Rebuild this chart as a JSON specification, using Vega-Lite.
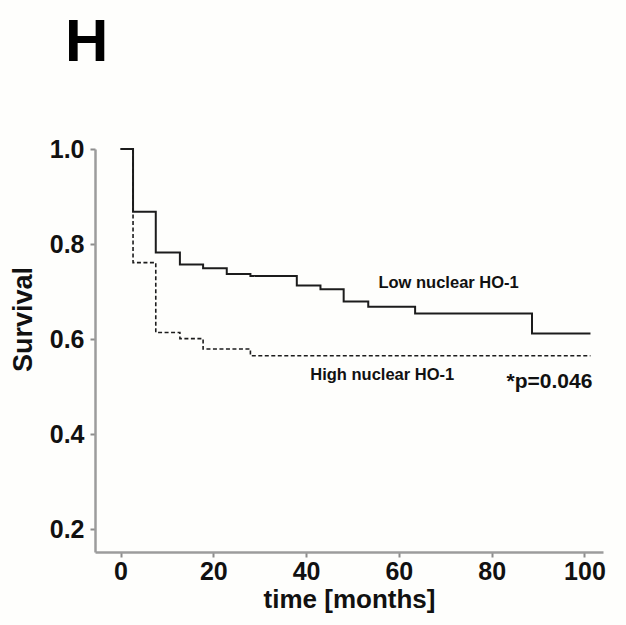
{
  "$schema": "https://vega.github.io/schema/vega-lite/v6.json",
  "width": 508,
  "height": 403,
  "autosize": {"type": "none"},
  "padding": {"left": 95, "top": 149, "right": 23, "bottom": 73},
  "background": "#fefefc",
  "title": {"text": "H", "anchor": "start", "frame": "group", "fontSize": 60, "font": "Liberation Sans", "fontWeight": "bold", "color": "#000000", "baseline": "alphabetic", "offset": 16, "dx": -30},
  "config": {
    "view": {"stroke": null},
    "axis": {
      "domainColor": "#9c9c9c",
      "domainWidth": 2.5,
      "tickColor": "#8c8c8c",
      "tickWidth": 2,
      "tickSize": 5,
      "grid": false,
      "labelFont": "Liberation Sans",
      "labelFontWeight": "bold",
      "labelFontSize": 25,
      "labelColor": "#111111",
      "titleFont": "Liberation Sans",
      "titleFontWeight": "bold",
      "titleColor": "#111111"
    }
  },
  "datasets": {
    "curves": [
      {"group": "Low nuclear HO-1", "t": 0, "s": 1.0},
      {"group": "Low nuclear HO-1", "t": 2.7, "s": 0.868},
      {"group": "Low nuclear HO-1", "t": 7.6, "s": 0.782},
      {"group": "Low nuclear HO-1", "t": 12.8, "s": 0.757},
      {"group": "Low nuclear HO-1", "t": 17.8, "s": 0.749},
      {"group": "Low nuclear HO-1", "t": 22.9, "s": 0.737},
      {"group": "Low nuclear HO-1", "t": 28.0, "s": 0.733},
      {"group": "Low nuclear HO-1", "t": 38.0, "s": 0.713},
      {"group": "Low nuclear HO-1", "t": 43.1, "s": 0.705},
      {"group": "Low nuclear HO-1", "t": 48.1, "s": 0.679},
      {"group": "Low nuclear HO-1", "t": 53.4, "s": 0.668},
      {"group": "Low nuclear HO-1", "t": 63.5, "s": 0.654},
      {"group": "Low nuclear HO-1", "t": 88.7, "s": 0.612},
      {"group": "Low nuclear HO-1", "t": 101.3, "s": 0.612},
      {"group": "High nuclear HO-1", "t": 0, "s": 1.0},
      {"group": "High nuclear HO-1", "t": 2.7, "s": 0.761},
      {"group": "High nuclear HO-1", "t": 7.6, "s": 0.614},
      {"group": "High nuclear HO-1", "t": 12.8, "s": 0.601},
      {"group": "High nuclear HO-1", "t": 17.8, "s": 0.579},
      {"group": "High nuclear HO-1", "t": 28.0, "s": 0.565},
      {"group": "High nuclear HO-1", "t": 101.3, "s": 0.565}
    ],
    "labels": [
      {"kind": "group", "text": "Low nuclear HO-1", "t": 55.6, "s": 0.718},
      {"kind": "group", "text": "High nuclear HO-1", "t": 40.9, "s": 0.524},
      {"kind": "p", "text": "*p=0.046", "t": 83.2, "s": 0.51}
    ]
  },
  "layer": [
    {
      "data": {"name": "curves"},
      "mark": {"type": "line", "interpolate": "step-after", "color": "#1c1c1c"},
      "encoding": {
        "x": {"field": "t", "type": "quantitative", "scale": {"domain": [-5.5, 104], "nice": false, "zero": false},
              "axis": {"values": [0, 20, 40, 60, 80, 100], "title": "time [months]", "titleFontSize": 26, "labelPadding": 2, "titlePadding": 2}},
        "y": {"field": "s", "type": "quantitative", "scale": {"domain": [0.152, 1.0], "nice": false, "zero": false},
              "axis": {"values": [0.2, 0.4, 0.6, 0.8, 1.0], "format": ".1f", "title": "Survival", "titleFontSize": 27, "labelPadding": 6, "titleX": -72, "titleY": 170, "titleAlign": "center", "titleBaseline": "middle", "titleAngle": -90}},
        "strokeDash": {"field": "group", "type": "nominal", "scale": {"domain": ["Low nuclear HO-1", "High nuclear HO-1"], "range": [[1, 0], [4, 2.5]]}, "legend": null},
        "strokeWidth": {"field": "group", "type": "nominal", "scale": {"domain": ["Low nuclear HO-1", "High nuclear HO-1"], "range": [2, 1.6]}, "legend": null}
      }
    },
    {
      "data": {"name": "labels"},
      "transform": [{"filter": "datum.kind === 'group'"}],
      "mark": {"type": "text", "align": "left", "baseline": "middle", "font": "Liberation Sans", "fontWeight": "bold", "fontSize": 16.5, "color": "#111111"},
      "encoding": {
        "x": {"field": "t", "type": "quantitative"},
        "y": {"field": "s", "type": "quantitative"},
        "text": {"field": "text"}
      }
    },
    {
      "data": {"name": "labels"},
      "transform": [{"filter": "datum.kind === 'p'"}],
      "mark": {"type": "text", "align": "left", "baseline": "middle", "font": "Liberation Sans", "fontWeight": "bold", "fontSize": 21, "color": "#111111"},
      "encoding": {
        "x": {"field": "t", "type": "quantitative"},
        "y": {"field": "s", "type": "quantitative"},
        "text": {"field": "text"}
      }
    }
  ]
}
